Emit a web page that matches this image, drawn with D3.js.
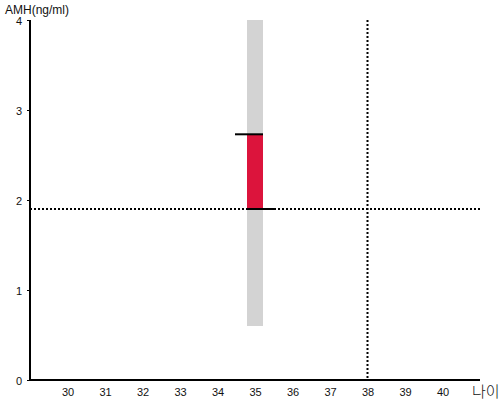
<!DOCTYPE html>
<html lang="ko">
<head>
<meta charset="UTF-8">
<title>AMH</title>
<script src="https://d3js.org/d3.v7.min.js"></script>
<style>
  body { margin: 0; background: #fff; }
  text { font-family: "Liberation Sans", Arial, sans-serif; }
</style>
</head>
<body>
<div id="viz"></div>
<script>
// data
var xTicks = [30, 31, 32, 33, 34, 35, 36, 37, 38, 39, 40];
var yTicks = [0, 1, 2, 3, 4];
var age = [35];            // 나이
var rangeLow = [0.6];      // gray band
var rangeHigh = [4.0];
var amhValue = [2.73];     // red bar top
var refAmh = 1.9;          // horizontal dotted line
var refAge = 38;           // vertical dotted line

var w = 500, h = 400;
var padL = 30, padR = 480, padT = 20, padB = 380;

var x = d3.scaleLinear().domain([29, 41]).range([padL, padR]);
var y = d3.scaleLinear().domain([0, 4]).range([padB, padT]);

var svg = d3.select("#viz").append("svg")
    .attr("width", w)
    .attr("height", h);

var barW = 16;

// gray range band
svg.selectAll("rect.band")
    .data(age)
    .enter().append("rect")
    .attr("class", "band")
    .attr("x", function(d){ return x(d) - barW / 2; })
    .attr("width", barW)
    .attr("y", function(d, i){ return y(rangeHigh[i]); })
    .attr("height", function(d, i){ return y(rangeLow[i]) - y(rangeHigh[i]); })
    .style("fill", "#d3d3d3");

// red bar from reference to value
svg.selectAll("rect.val")
    .data(age)
    .enter().append("rect")
    .attr("class", "val")
    .attr("x", function(d){ return x(d) - barW / 2; })
    .attr("width", barW)
    .attr("y", function(d, i){ return y(amhValue[i]); })
    .attr("height", function(d, i){ return y(refAmh) - y(amhValue[i]); })
    .style("fill", "#dc143c");

// dotted reference lines
svg.append("line")
    .attr("x1", padL).attr("x2", padR)
    .attr("y1", y(refAmh)).attr("y2", y(refAmh))
    .style("stroke", "#000").style("stroke-width", 2)
    .style("stroke-dasharray", "2,2");

svg.append("line")
    .attr("x1", x(refAge)).attr("x2", x(refAge))
    .attr("y1", padT).attr("y2", padB)
    .style("stroke", "#000").style("stroke-width", 2)
    .style("stroke-dasharray", "2,2");

// black markers
svg.selectAll("line.top")
    .data(age)
    .enter().append("line")
    .attr("x1", function(d){ return x(d) - barW / 2 - 12; })
    .attr("x2", function(d){ return x(d) + barW / 2; })
    .attr("y1", function(d, i){ return y(amhValue[i]); })
    .attr("y2", function(d, i){ return y(amhValue[i]); })
    .style("stroke", "#000").style("stroke-width", 2);

svg.selectAll("line.bot")
    .data(age)
    .enter().append("line")
    .attr("x1", function(d){ return x(d) - barW / 2; })
    .attr("x2", function(d){ return x(d) + barW / 2 + 12; })
    .attr("y1", y(refAmh))
    .attr("y2", y(refAmh))
    .style("stroke", "#000").style("stroke-width", 2);

// axes
var xAxis = d3.axisBottom(x).tickValues(xTicks).tickSize(0).tickPadding(8);
var yAxis = d3.axisLeft(y).tickValues(yTicks).tickFormat(d3.format("d"))
    .tickSize(3).tickPadding(5);

var gx = svg.append("g").attr("transform", "translate(0," + padB + ")").call(xAxis);
var gy = svg.append("g").attr("transform", "translate(" + padL + ",0)").call(yAxis);

[gx, gy].forEach(function(g){
    g.select(".domain").remove();
    g.selectAll("line").style("stroke", "#000");
    g.selectAll("text")
        .style("font-family", "'Liberation Sans', Arial, sans-serif")
        .style("font-size", "11px")
        .style("fill", "#111");
});
gy.selectAll("text").attr("dy", "0.45em");

svg.append("line")
    .attr("x1", padL).attr("x2", padR)
    .attr("y1", padB).attr("y2", padB)
    .style("stroke", "#000").style("stroke-width", 2);
svg.append("line")
    .attr("x1", padL).attr("x2", padL)
    .attr("y1", padT).attr("y2", padB)
    .style("stroke", "#000").style("stroke-width", 2);

// axis titles
svg.append("text")
    .attr("x", 5).attr("y", 14)
    .style("font-size", "12px")
    .style("fill", "#111")
    .text("AMH(ng/ml)");

svg.append("text")
    .attr("x", 472).attr("y", 397)
    .style("font-family", "'Noto Sans CJK KR', sans-serif")
    .style("font-size", "15px")
    .style("font-weight", "300")
    .style("fill", "#111")
    .text("나이");
</script>
</body>
</html>
